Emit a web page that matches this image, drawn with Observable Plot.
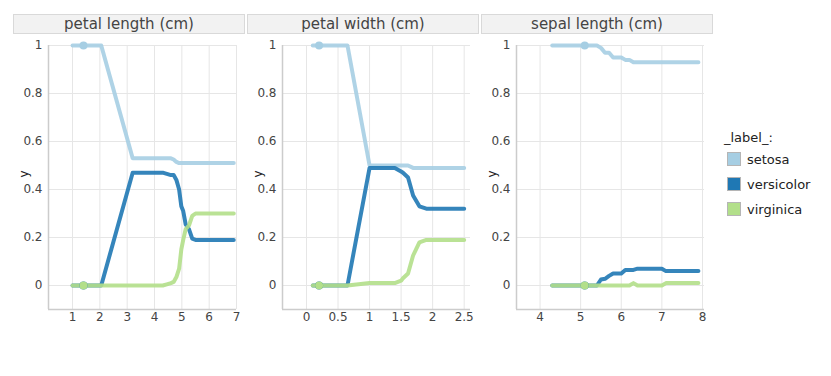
<!DOCTYPE html>
<html><head><meta charset="utf-8">
<script src="https://cdn.jsdelivr.net/npm/d3@7"></script>
<script src="https://cdn.jsdelivr.net/npm/@observablehq/plot@0.6"></script>
<style>
body{margin:0;background:#fff;font-family:"DejaVu Sans",sans-serif;}
#root{position:relative;width:831px;height:376px;overflow:hidden;background:#fff}
.strip{position:absolute;top:14px;height:20px;width:232px;box-sizing:border-box;background:#f2f2f2;border:1px solid #d9d9d9;color:#444;font-size:15px;text-align:center;line-height:18px;}
.panel{position:absolute;top:34px}
.lg-title{position:absolute;left:724px;top:130px;font-size:13px;line-height:16px;color:#222}
.lg-sw{position:absolute;left:727px;width:14px;height:14px;box-sizing:border-box;border:1px solid #b5b5b5}
.lg-tx{position:absolute;left:747px;font-size:13px;line-height:16px;color:#222}
</style></head>
<body><div id="root"></div>
<script>
const classes = ["setosa", "versicolor", "virginica"];
const classColors = ["#a6cee3", "#1f78b4", "#b2df8a"];
const panelTitles = ["petal length (cm)", "petal width (cm)", "sepal length (cm)"];
const legendTitle = "_label_:";
const yTicks = [0, 0.2, 0.4, 0.6, 0.8, 1];

// petal length (cm)
const petalLengthX          = [1.0, 1.4, 2.05, 3.2, 4.3, 4.45, 4.6, 4.7, 4.8, 4.9, 4.98, 5.05, 5.14, 5.26, 5.38, 5.5, 6.9];
const petalLengthSetosa     = [1, 1, 1, 0.53, 0.53, 0.53, 0.53, 0.525, 0.515, 0.51, 0.51, 0.51, 0.51, 0.51, 0.51, 0.51, 0.51];
const petalLengthVersicolor = [0, 0, 0, 0.47, 0.47, 0.465, 0.46, 0.46, 0.44, 0.40, 0.33, 0.31, 0.255, 0.235, 0.195, 0.19, 0.19];
const petalLengthVirginica  = [0, 0, 0, 0, 0, 0.005, 0.01, 0.015, 0.035, 0.07, 0.15, 0.19, 0.235, 0.25, 0.29, 0.30, 0.30];
const petalLengthTicks = [1, 2, 3, 4, 5, 6, 7];

// petal width (cm)
const petalWidthX          = [0.1, 0.2, 0.65, 1.0, 1.4, 1.5, 1.53, 1.61, 1.69, 1.79, 1.9, 2.5];
const petalWidthSetosa     = [1, 1, 1, 0.5, 0.5, 0.5, 0.5, 0.5, 0.49, 0.49, 0.49, 0.49];
const petalWidthVersicolor = [0, 0, 0, 0.49, 0.49, 0.475, 0.47, 0.45, 0.375, 0.33, 0.32, 0.32];
const petalWidthVirginica  = [0, 0, 0, 0.01, 0.01, 0.02, 0.03, 0.05, 0.125, 0.18, 0.19, 0.19];
const petalWidthTicks = [0, 0.5, 1, 1.5, 2, 2.5];

// sepal length (cm)
const sepalLengthX          = [4.3, 5.1, 5.4, 5.5, 5.6, 5.7, 5.8, 6.0, 6.1, 6.2, 6.3, 6.4, 7.0, 7.1, 7.9];
const sepalLengthSetosa     = [1, 1, 1, 0.99, 0.97, 0.97, 0.95, 0.95, 0.94, 0.94, 0.93, 0.93, 0.93, 0.93, 0.93];
const sepalLengthVersicolor = [0, 0, 0, 0.025, 0.028, 0.04, 0.05, 0.05, 0.065, 0.065, 0.065, 0.07, 0.07, 0.06, 0.06];
const sepalLengthVirginica  = [0, 0, 0, 0, 0, 0, 0, 0, 0, 0, 0.01, 0, 0, 0.01, 0.01];
const sepalLengthTicks = [4, 5, 6, 7, 8];

// observation (ceteris paribus point)
const observationX          = [1.4, 0.2, 5.1];
const observationSetosa     = [1, 1, 1];
const observationVersicolor = [0, 0, 0];
const observationVirginica  = [0, 0, 0];

const panels = [
  {title: panelTitles[0], x: petalLengthX, series: [petalLengthSetosa, petalLengthVersicolor, petalLengthVirginica], ticks: petalLengthTicks, domain: [0.12, 7], left: 13},
  {title: panelTitles[1], x: petalWidthX, series: [petalWidthSetosa, petalWidthVersicolor, petalWidthVirginica], ticks: petalWidthTicks, domain: [-0.38, 2.6], left: 247},
  {title: panelTitles[2], x: sepalLengthX, series: [sepalLengthSetosa, sepalLengthVersicolor, sepalLengthVirginica], ticks: sepalLengthTicks, domain: [3.42, 8.05], left: 481}
];
const obsSeries = [observationSetosa, observationVersicolor, observationVirginica];
const fmt = d => String(+d.toFixed(2));

const root = document.getElementById("root");

panels.forEach((p, pi) => {
  const strip = document.createElement("div");
  strip.className = "strip";
  strip.style.left = p.left + "px";
  strip.textContent = p.title;
  root.appendChild(strip);

  const lineData = [];
  classes.forEach((c, ci) => p.x.forEach((x, i) => lineData.push({x, y: p.series[ci][i], cls: c})));
  const dotData = classes.map((c, ci) => ({x: observationX[pi], y: obsSeries[ci][pi], cls: c}));

  const chart = Plot.plot({
    width: 233, height: 300,
    marginTop: 11, marginBottom: 25, marginLeft: 35, marginRight: 10,
    style: {fontFamily: "DejaVu Sans, sans-serif", fontSize: "12px", color: "#444", background: "transparent"},
    x: {domain: p.domain, label: null},
    y: {domain: [-0.1, 1], label: null},
    color: {domain: classes, range: classColors},
    marks: [
      Plot.gridY(yTicks, {stroke: "#e6e6e6", strokeOpacity: 1, strokeWidth: 1}),
      Plot.gridX(p.ticks, {stroke: "#e6e6e6", strokeOpacity: 1, strokeWidth: 1}),
      Plot.ruleX([p.domain[0]], {stroke: "#cccccc", strokeWidth: 1.5}),
      Plot.ruleY([-0.1], {stroke: "#cccccc", strokeWidth: 1.5}),
      Plot.axisY(yTicks, {tickSize: 0, tickPadding: 6, tickFormat: fmt, label: null, fill: "#444"}),
      Plot.axisX(p.ticks, {tickSize: 0, tickPadding: 3, tickFormat: fmt, label: null, fill: "#444"}),
      Plot.text(["y"], {frameAnchor: "left", dx: -24, rotate: -90, fontSize: 12, fill: "#222"}),
      Plot.line(lineData, {x: "x", y: "y", z: "cls", stroke: "cls", strokeWidth: 4, strokeOpacity: 0.9, strokeLinejoin: "round", strokeLinecap: "round"}),
      Plot.dot(dotData, {x: "x", y: "y", fill: "cls", r: 4})
    ]
  });
  const wrap = document.createElement("div");
  wrap.className = "panel";
  wrap.style.left = p.left + "px";
  wrap.appendChild(chart);
  root.appendChild(wrap);
});

const lt = document.createElement("div");
lt.className = "lg-title";
lt.textContent = legendTitle;
root.appendChild(lt);
classes.forEach((c, ci) => {
  const sw = document.createElement("div");
  sw.className = "lg-sw";
  sw.style.top = (152 + ci * 25) + "px";
  sw.style.background = classColors[ci];
  root.appendChild(sw);
  const tx = document.createElement("div");
  tx.className = "lg-tx";
  tx.style.top = (152 + ci * 25) + "px";
  tx.textContent = c;
  root.appendChild(tx);
});
</script>
</body></html>
